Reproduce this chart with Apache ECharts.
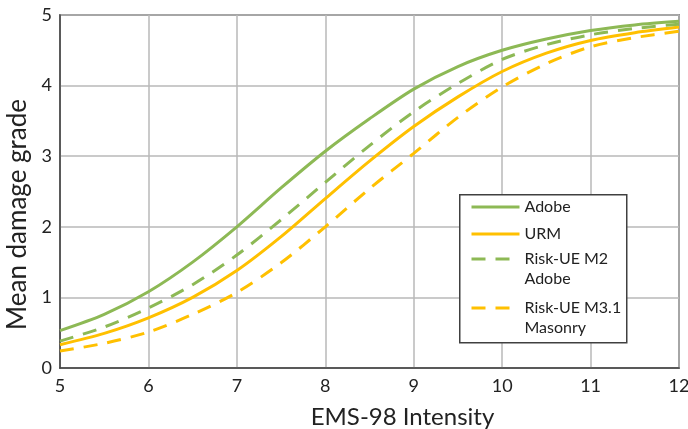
<!DOCTYPE html>
<html>
<head>
<meta charset="utf-8">
<script src="https://cdn.jsdelivr.net/npm/echarts@6/dist/echarts.min.js"></script>
<style>
  html, body { margin: 0; padding: 0; background: #fff; }
  #chart { width: 688px; height: 429px; }
</style>
</head>
<body>
<div id="chart"></div>
<script>
// EMS-98 intensity grid used by all curves
const intensity = [5, 5.5, 6, 6.5, 7, 7.5, 8, 8.5, 9, 9.5, 10, 10.5, 11, 11.5, 12];

// Mean damage grade per curve
const adobe      = [0.53, 0.76, 1.08, 1.50, 2.00, 2.55, 3.07, 3.53, 3.95, 4.27, 4.50, 4.66, 4.78, 4.86, 4.91];
const urm        = [0.33, 0.49, 0.71, 1.00, 1.38, 1.86, 2.40, 2.93, 3.42, 3.84, 4.20, 4.46, 4.64, 4.75, 4.83];
const riskUeM2   = [0.38, 0.58, 0.85, 1.18, 1.60, 2.10, 2.63, 3.15, 3.63, 4.03, 4.37, 4.58, 4.72, 4.81, 4.87];
const riskUeM31  = [0.24, 0.35, 0.51, 0.76, 1.07, 1.49, 2.00, 2.54, 3.04, 3.55, 3.98, 4.31, 4.55, 4.68, 4.77];

const xTicks = [5, 6, 7, 8, 9, 10, 11, 12];
const yTicks = [0, 1, 2, 3, 4, 5];

const names = ['Adobe', 'URM', 'Risk-UE M2\nAdobe', 'Risk-UE M3.1\nMasonry'];

const GREEN = '#8DB955';
const GOLD = '#FFC000';
const FONT = 'Lato';

function pairs(ys) { return intensity.map((x, i) => [x, ys[i]]); }

function curve(name, ys, color, dashed) {
  return {
    name: name,
    type: 'line',
    data: pairs(ys),
    smooth: 0.3,
    symbol: 'none',
    z: 3,
    lineStyle: { color: color, width: 3, type: dashed ? [14, 10] : 'solid', cap: 'butt' },
    itemStyle: { color: color }
  };
}

// One legend block per entry; two-line names get a leading blank line so
// the first line of text sits level with the line sample.
function legendAt(name, top, twoLine) {
  return {
    data: [name],
    orient: 'vertical',
    left: 470,
    top: top,
    padding: 0,
    itemWidth: 48,
    itemHeight: 14,
    selectedMode: false,
    z: 6,
    itemStyle: { opacity: 0 },
    lineStyle: { width: 3 },
    formatter: twoLine ? (n => '\n' + n) : (n => n),
    textStyle: { fontFamily: FONT, fontSize: 16, color: '#222', lineHeight: 20 }
  };
}

const chart = echarts.init(document.getElementById('chart'));
chart.setOption({
  backgroundColor: '#fff',
  animation: false,
  textStyle: { fontFamily: FONT },
  grid: {
    left: 60, right: 9, top: 15, bottom: 61,
    containLabel: false,
    outerBoundsMode: 'none',
    show: true, borderColor: '#404040', borderWidth: 1.5, backgroundColor: 'transparent'
  },
  xAxis: {
    type: 'value',
    min: xTicks[0], max: xTicks[xTicks.length - 1], interval: 1,
    name: 'EMS-98 Intensity',
    nameLocation: 'middle',
    nameGap: 37,
    nameTextStyle: { fontFamily: FONT, fontSize: 24, color: '#222', padding: [0, 0, 0, 66] },
    axisLine: { lineStyle: { color: '#404040', width: 1.5 } },
    axisTick: { show: false },
    axisLabel: { fontFamily: FONT, fontSize: 18, color: '#222', margin: 9 },
    splitLine: { show: true, lineStyle: { color: '#B8B8B8', width: 1.5 } }
  },
  yAxis: {
    type: 'value',
    min: yTicks[0], max: yTicks[yTicks.length - 1], interval: 1,
    name: 'Mean damage grade',
    nameLocation: 'middle',
    nameGap: 20,
    nameTextStyle: { fontFamily: FONT, fontSize: 26, color: '#222', padding: [0, 46, 0, 0] },
    axisLine: { show: true, lineStyle: { color: '#404040', width: 1.5 } },
    axisTick: { show: false },
    axisLabel: { fontFamily: FONT, fontSize: 18, color: '#222', margin: 8 },
    splitLine: { show: true, lineStyle: { color: '#B8B8B8', width: 1.5 } }
  },
  legend: [
    legendAt(names[0], 197, false),
    legendAt(names[1], 224, false),
    legendAt(names[2], 229, true),
    legendAt(names[3], 278, true)
  ],
  graphic: [{
    type: 'rect',
    left: 459, top: 194, z: 5,
    shape: { width: 167, height: 148 },
    style: { fill: '#fff', stroke: '#404040', lineWidth: 1.5 }
  }],
  series: [
    curve(names[0], adobe, GREEN, false),
    curve(names[1], urm, GOLD, false),
    curve(names[2], riskUeM2, GREEN, true),
    curve(names[3], riskUeM31, GOLD, true)
  ]
});
</script>
</body>
</html>
